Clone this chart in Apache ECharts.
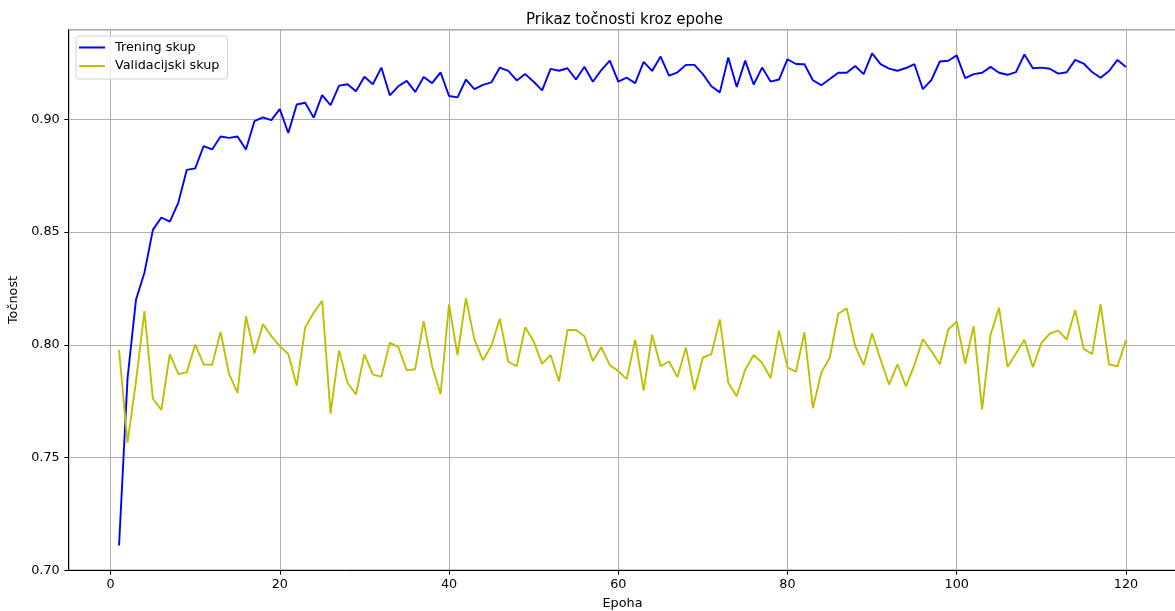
<!DOCTYPE html>
<html>
<head>
<meta charset="utf-8">
<script src="https://cdn.jsdelivr.net/npm/echarts@6/dist/echarts.min.js"></script>
<style>html,body{margin:0;padding:0;background:#fff}#c{width:1175px;height:611px}</style>
</head>
<body>
<div id="c"></div>
<script>
const epochs = Array.from({length: 120}, (_, i) => i + 1);
const trening = [
0.711,0.785,0.820,0.832,0.851,0.8565,0.8547,0.863,0.8776,0.8783,
0.8882,0.8867,0.8924,0.8918,0.8924,0.8867,0.8992,0.9009,0.8997,0.9046,
0.894,0.9066,0.9074,0.9008,0.9108,0.9063,0.915,0.9156,0.9125,0.9189,
0.9156,0.923,0.9107,0.9147,0.9171,0.9122,0.9188,0.9161,0.9209,0.9104,
0.9098,0.9177,0.9134,0.9153,0.9164,0.923,0.9215,0.9173,0.9201,0.9167,
0.9129,0.9224,0.9216,0.9227,0.9177,0.9234,0.9167,0.9219,0.9261,0.9168,
0.9185,0.9161,0.9255,0.9215,0.9279,0.9194,0.9209,0.9242,0.9242,0.9201,
0.9147,0.912,0.9275,0.9144,0.9261,0.9155,0.923,0.9168,0.9177,0.9267,
0.9246,0.9245,0.9174,0.9152,0.9179,0.9207,0.9207,0.9237,0.9201,0.9293,
0.9245,0.9225,0.9216,0.9228,0.9245,0.9134,0.9174,0.9257,0.926,0.9284,
0.9183,0.9201,0.9207,0.9233,0.9207,0.9198,0.921,0.9288,0.9227,0.923,
0.9225,0.9203,0.9209,0.9264,0.9248,0.921,0.9185,0.9215,0.9264,0.9233
];
const validacija = [
0.7978,0.7566,0.7837,0.815,0.7761,0.7711,0.7959,0.7871,0.7878,0.8002,
0.7913,0.7912,0.8057,0.7871,0.7787,0.8127,0.7962,0.8092,0.8039,0.7994,
0.7959,0.7819,0.8077,0.8142,0.8196,0.7695,0.7975,0.7832,0.778,0.7958,
0.7868,0.7859,0.801,0.799,0.7887,0.7892,0.8105,0.7905,0.7781,0.818,
0.7955,0.8207,0.8023,0.7932,0.7995,0.8116,0.7925,0.7905,0.8078,0.8015,
0.7916,0.7955,0.7838,0.8066,0.8066,0.8038,0.7928,0.799,0.791,0.7884,
0.7848,0.8023,0.7797,0.8045,0.7905,0.7926,0.7857,0.7988,0.78,0.7944,
0.7958,0.8113,0.7832,0.7772,0.789,0.7955,0.792,0.7853,0.8063,0.79,
0.788,0.8056,0.7719,0.7877,0.7944,0.8138,0.8162,0.7995,0.791,0.805,
0.7935,0.7824,0.7914,0.7816,0.7911,0.8026,0.7973,0.7914,0.8068,0.8104,
0.7917,0.8083,0.7713,0.8045,0.8165,0.7902,0.7962,0.8023,0.7901,0.8008,
0.805,0.8063,0.8023,0.8155,0.7983,0.7959,0.818,0.7913,0.7905,0.802
];
const seriesNames = ['Trening skup', 'Validacijski skup'];
const titleText = 'Prikaz točnosti kroz epohe';
const xName = 'Epoha';
const yName = 'Točnost';

const FONT = 'DejaVu Sans';
const FS = 12.8;
const chart = echarts.init(document.getElementById('c'), null, {renderer: 'canvas'});
chart.setOption({
  animation: false,
  backgroundColor: '#fff',
  title: {
    text: titleText, left: 521, top: 8,
    textStyle: {fontFamily: FONT, fontSize: 15, fontWeight: 'normal', color: '#000'}
  },
  legend: {
    left: 76, top: 36, orient: 'vertical',
    padding: [4.5, 8, 6, 3],
    icon: 'rect',
    itemWidth: 26, itemHeight: 2, itemGap: 4.5,
    backgroundColor: 'rgba(255,255,255,0.8)',
    borderColor: '#d0d0d0', borderWidth: 1, borderRadius: 3,
    textStyle: {fontFamily: FONT, fontSize: FS, lineHeight: 14, color: '#000', padding: [0, 0, 0, 5]},
    data: seriesNames
  },
  grid: {left: 68.7, top: 29.7, width: 1107.6, bottom: 40.7, show: true, borderColor: '#000', borderWidth: 1,
         containLabel: false, outerBoundsMode: 'none'},
  xAxis: {
    type: 'value', min: -4.95, max: 125.95,
    splitNumber: 6, minInterval: 20, maxInterval: 20,
    name: xName, nameLocation: 'middle', nameGap: 27,
    nameTextStyle: {fontFamily: FONT, fontSize: FS, color: '#000'},
    axisLine: {show: true, onZero: false, lineStyle: {color: '#000', width: 1}},
    axisTick: {show: true, length: 4.4, lineStyle: {color: '#000'}},
    axisLabel: {showMinLabel: false, showMaxLabel: false, margin: 8, fontFamily: FONT, fontSize: FS, color: '#000'},
    splitLine: {show: true, lineStyle: {color: '#b0b0b0', width: 1}}
  },
  yAxis: {
    type: 'value', min: 0.70, max: 0.9398, interval: 0.05,
    name: yName, nameLocation: 'middle', nameGap: 41,
    nameTextStyle: {fontFamily: FONT, fontSize: FS, color: '#000'},
    axisLine: {show: true, onZero: false, lineStyle: {color: '#000', width: 1}},
    axisTick: {show: true, length: 4.4, lineStyle: {color: '#000'}},
    axisLabel: {showMaxLabel: false, margin: 9, fontFamily: FONT, fontSize: FS, color: '#000',
      formatter: v => v.toFixed(2)},
    splitLine: {show: true, lineStyle: {color: '#b0b0b0', width: 1}}
  },
  series: [
    {name: seriesNames[0], type: 'line', symbol: 'none', color: '#0000ff',
     lineStyle: {width: 1.9, color: '#0000ff'}, data: epochs.map((e, i) => [e, trening[i]])},
    {name: seriesNames[1], type: 'line', symbol: 'none', color: '#bfbf00',
     lineStyle: {width: 1.9, color: '#bfbf00'}, data: epochs.map((e, i) => [e, validacija[i]])}
  ]
});
</script>
</body>
</html>
